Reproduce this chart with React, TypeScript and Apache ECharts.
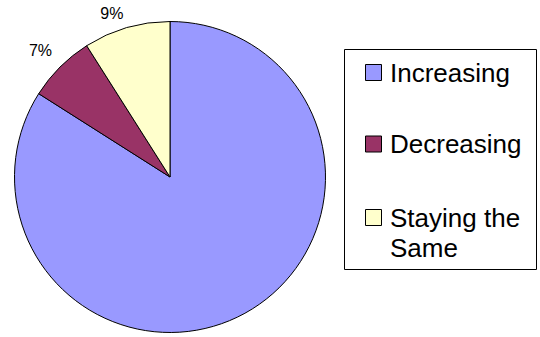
import React, { useEffect, useRef } from "react";
import * as echarts from "echarts";

// Share of responses per trend category
const categories = ["Increasing", "Decreasing", "Staying the Same"];
const legendLabels = ["Increasing", "Decreasing", "Staying the\nSame"];
const shares = [84, 7, 9];
const colors = ["#9999FF", "#993366", "#FFFFCC"];

const FONT = "'Liberation Sans', Arial, Helvetica, sans-serif";

// Legend rows: vertical centre of each swatch
const legendRowY = [72.5, 144, 217.5];

export default function App() {
  const ref = useRef<HTMLDivElement>(null);

  useEffect(() => {
    if (!ref.current) return;
    const chart = echarts.init(ref.current, undefined, { renderer: "svg" });

    // Per-slice label placement (the biggest slice carries no label)
    const labelTweaks = [
      { show: false, length: 10, distance: 0 },
      { show: true, length: 24, distance: -9 },
      { show: true, length: 15, distance: -1 },
    ];

    const data = categories.map((name, i) => ({
      name,
      value: shares[i],
      itemStyle: { color: colors[i] },
      label: { show: labelTweaks[i].show, distanceToLabelLine: labelTweaks[i].distance },
      labelLine: { show: false, length: labelTweaks[i].length, length2: 0 },
    }));

    const legendChildren: any[] = [
      {
        type: "rect",
        shape: { x: 344.5, y: 49.5, width: 192, height: 220 },
        style: { fill: "#fff", stroke: "#000", lineWidth: 1 },
      },
    ];
    legendLabels.forEach((label, i) => {
      const cy = legendRowY[i];
      legendChildren.push({
        type: "rect",
        shape: { x: 365.5, y: cy - 8, width: 16, height: 16 },
        style: { fill: colors[i], stroke: "#000", lineWidth: 1 },
      });
      legendChildren.push({
        type: "text",
        x: 390,
        y: cy - 15,
        style: {
          text: label,
          fill: "#000",
          font: `26px ${FONT}`,
          fontSize: 26,
          fontFamily: FONT,
          lineHeight: 30,
          verticalAlign: "top",
          align: "left",
        },
      });
    });

    chart.setOption({
      animation: false,
      backgroundColor: "#ffffff",
      graphic: { elements: [{ type: "group", children: legendChildren }] },
      series: [
        {
          type: "pie",
          center: [170, 177],
          radius: 155.5,
          startAngle: 90,
          clockwise: true,
          avoidLabelOverlap: false,
          percentPrecision: 0,
          itemStyle: { borderColor: "#000", borderWidth: 1 },
          emphasis: { disabled: true },
          label: {
            position: "outside",
            formatter: "{d}%",
            color: "#000",
            fontSize: 16,
            fontFamily: FONT,
          },
          data,
        },
      ],
    });

    return () => chart.dispose();
  }, []);

  return (
    <div
      ref={ref}
      style={{ position: "fixed", left: 0, top: 0, width: 540, height: 337, background: "#fff" }}
    />
  );
}
